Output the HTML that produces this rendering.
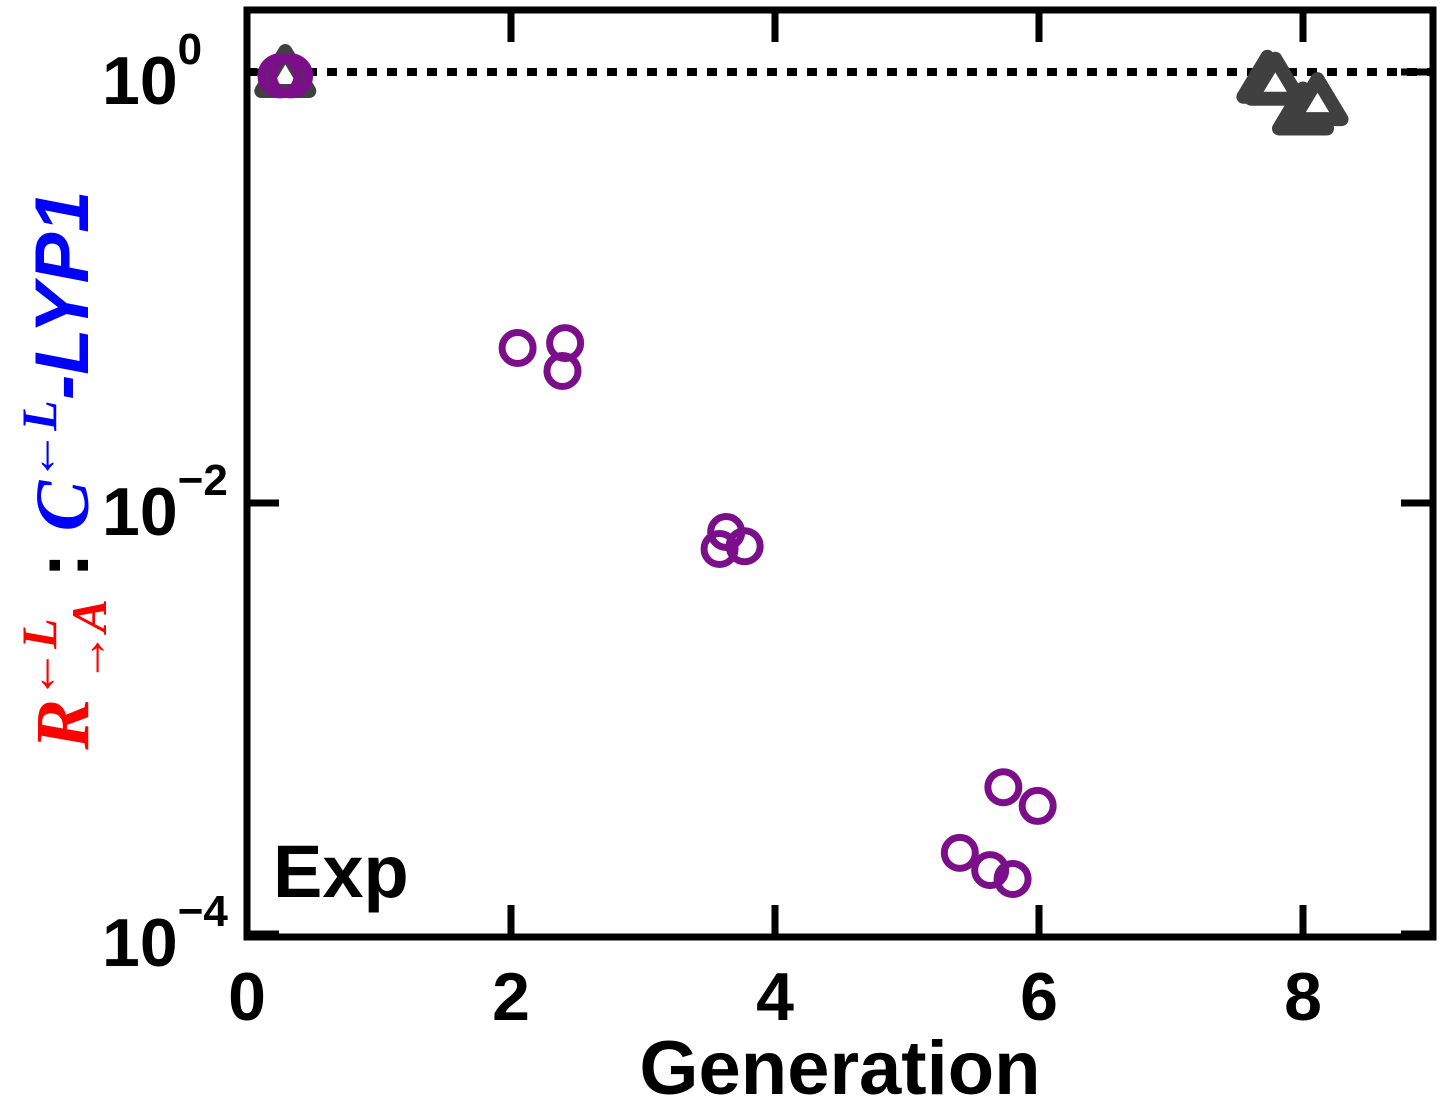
<!DOCTYPE html>
<html><head><meta charset="utf-8"><style>
body{margin:0;background:#fff;}
svg{display:block;}
.t{font-family:"Liberation Sans",sans-serif;font-weight:bold;}
</style></head><body>
<svg id="chart" width="1445" height="1102">
<g id="axes"></g>
<g id="marks"></g>
<text class="t" x="273" y="897" font-size="74">Exp</text>
<text class="t" x="840" y="1094" font-size="76" text-anchor="middle">Generation</text>
<g transform="translate(88,470) rotate(-90)">
<text x="0" y="0" text-anchor="middle" font-size="76"><tspan fill="#f00" font-family="Liberation Serif,serif" font-style="italic" font-weight="bold">R<tspan font-size="50" dy="-32">←L</tspan><tspan font-size="50" dx="-64" dy="50">→A</tspan></tspan><tspan dy="-18" fill="#000" font-family="Liberation Sans,sans-serif" font-weight="bold"> : </tspan><tspan fill="#00f" font-family="Liberation Serif,serif" font-style="italic" font-weight="bold">C<tspan font-size="50" dy="-32">←L</tspan></tspan><tspan dy="32" fill="#00f" font-family="Liberation Sans,sans-serif" font-style="italic" font-weight="bold">-LYP1</tspan></text>
</g>
</svg>
<script>
const circleGen=[0.25,0.33,2.05,2.41,2.39,3.63,3.58,3.77,5.73,5.99,5.40,5.63,5.80];
const circleVal=[0.96,0.96,0.0524,0.0552,0.041,0.00734,0.00612,0.0063,4.8e-4,3.93e-4,2.38e-4,1.98e-4,1.8e-4];
const triGen=[0.29,7.73,7.79,8.0,8.11];
const triVal=[1.0,0.94,0.92,0.67,0.74];
const xTicks=[0,2,4,6,8];
const yTicks=[0,-2,-4];
const NS="http://www.w3.org/2000/svg";
const L=247,R=1433,T=10,B=937;
function xs(g){return 247+g*132;}
function ys(v){return 72-Math.log10(v)*215.5;}
const axes=document.getElementById('axes'),marks=document.getElementById('marks');
function mk(tag,attrs,parent){const e=document.createElementNS(NS,tag);for(const k in attrs)e.setAttribute(k,attrs[k]);parent.appendChild(e);return e;}
let fr=mk('rect',{x:L,y:T,width:R-L,height:B-T,fill:'none',stroke:'#000','stroke-width':7},axes);


let ref=mk('line',{x1:L,x2:R,y1:ys(1),y2:ys(1),stroke:'#000','stroke-width':8,'stroke-dasharray':'10 10'},axes);


xTicks.forEach(g=>{
 if(g>0){mk('line',{x1:xs(g),x2:xs(g),y1:B,y2:B-32,stroke:'#000','stroke-width':7},axes);
 mk('line',{x1:xs(g),x2:xs(g),y1:T,y2:T+32,stroke:'#000','stroke-width':7},axes);}
 const t=mk('text',{x:xs(g),y:1020,'font-size':68,'text-anchor':'middle',class:'t'},axes);
 t.textContent=g;
 
 
});
yTicks.forEach(p=>{
 const y=ys(Math.pow(10,p));
 mk('line',{x1:L,x2:L+32,y1:y,y2:y,stroke:'#000','stroke-width':7},axes);
 mk('line',{x1:R,x2:R-32,y1:y,y2:y,stroke:'#000','stroke-width':7},axes);
 const t=mk('text',{x:102,y:y+32,'font-size':68,class:'t'},axes);
 t.innerHTML='10<tspan font-size="44" dy="-40">'+(p==0?'0':'−'+(-p))+'</tspan>';
 
 
});
triGen.forEach((g,i)=>{
 const x=xs(g),y=ys(triVal[i]);
 const p=mk('path',{d:`M${x},${y-21} L${x+24},${y+19} L${x-24},${y+19} Z`,fill:'#fff',stroke:'#404040','stroke-width':14,'stroke-linejoin':'round'},marks);
 
 
});
circleGen.forEach((g,i)=>{
 const c=mk('circle',{cx:xs(g),cy:ys(circleVal[i]),r:g<1?18:15.5,fill:'none',stroke:'#7b0f8a','stroke-width':g<1?9:7},marks);
 
 
});
</script>
</body></html>
